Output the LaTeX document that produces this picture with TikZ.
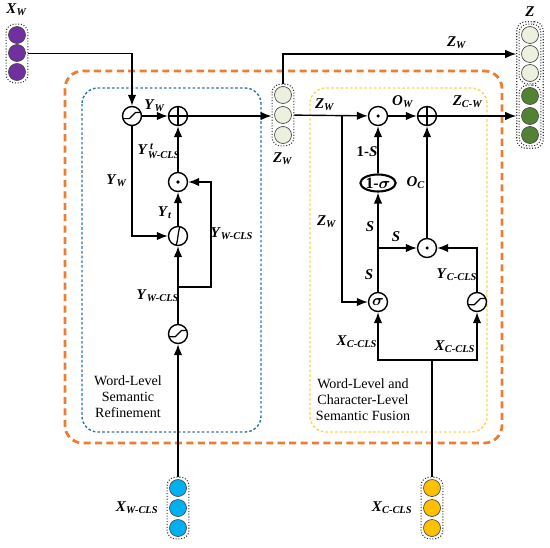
\documentclass[tikz,border=0pt]{standalone}
\usepackage{amsmath}
\usepackage{fontspec}
\setmainfont{Liberation Serif}
\usetikzlibrary{arrows.meta,positioning,fit,shapes.geometric}
\definecolor{grape}{RGB}{112,48,160}
\definecolor{sky}{RGB}{0,176,240}
\definecolor{amber}{RGB}{255,192,0}
\definecolor{leaf}{RGB}{84,130,53}
\definecolor{pale}{RGB}{235,241,222}
\definecolor{rust}{RGB}{237,125,49}
\definecolor{sea}{RGB}{46,117,182}
\definecolor{straw}{RGB}{255,210,80}
\newcommand\vlab[2]{$\textbf{\textit{#1}}_{\textbf{\textit{#2}}}$}
\newcommand\vlabt[2]{$\textbf{\textit{#1}}^{\,\textbf{\textit{t}}}_{\textbf{\textit{#2}}}$}

\begin{document}
\begin{tikzpicture}[x=0.02cm,y=-0.02cm,font=\fontsize{8.5}{10}\selectfont,
 arrow/.style={-{Latex[length=2.2mm,width=1.7mm]},line width=0.8pt},
 link/.style={line width=0.8pt},
 op/.style={circle,draw,line width=0.8pt,minimum size=0.38cm,inner sep=0pt,fill=white},
 dotop/.style={op,path picture={\fill[black] (path picture bounding box.center) circle (1pt);}},
 plusop/.style={op,path picture={\draw[line width=0.7pt] (path picture bounding box.north) -- (path picture bounding box.south) (path picture bounding box.west) -- (path picture bounding box.east);}},
 actop/.style={op,path picture={\draw[line width=0.7pt] ([xshift=-6pt,yshift=-1.5pt]path picture bounding box.center) -- ++(4.5pt,0pt) -- ++(3.5pt,3.5pt) -- ++(4pt,0pt);}},
 tanop/.style={op,path picture={\draw[line width=0.7pt] ([xshift=-2pt,yshift=-6pt]path picture bounding box.center) .. controls +(2.5pt,0.5pt) and +(-2.5pt,-0.5pt) .. ++(4pt,12pt);}},
 sigop/.style={op,font=\fontsize{9}{10}\selectfont\bfseries\itshape},
 gateop/.style={ellipse,draw,line width=1.2pt,minimum width=0.56cm,minimum height=0.34cm,inner sep=0pt,fill=white,font=\fontsize{9}{10}\selectfont\bfseries},
 unit/.style={circle,draw=black!70,line width=0.4pt,minimum size=0.34cm,inner sep=0pt},
 stack/.style={draw=black!80,densely dotted,line width=0.6pt,rounded corners=5pt,inner sep=1.2pt},
 blockname/.style={align=center,font=\fontsize{8}{9.2}\selectfont}]
\useasboundingbox (0,0) rectangle (550,547);
% module frames
\draw[rust,line width=1.6pt,dash pattern=on 4pt off 2.5pt,rounded corners=10pt] (65,71) rectangle (502,443);
\draw[sea,line width=0.8pt,dash pattern=on 1.5pt off 1.2pt,rounded corners=9pt] (82,88) rectangle (261,432);
\draw[straw,line width=0.8pt,dash pattern=on 1.5pt off 1.2pt,rounded corners=9pt] (310,88) rectangle (487,432);
\node[blockname] (wsr) at (128,397) {Word-Level\\Semantic\\Refinement};
\node[blockname] (wcf) at (363,400) {Word-Level and\\Character-Level\\Semantic Fusion};
% input and output stacks
\foreach \i/\y in {1/35,2/53,3/72} \node[unit,fill=grape] (xw\i) at (17,\y) {};
\node[stack,fit=(xw1)(xw3)] (xwbox) {};
\node[above=1pt of xwbox] (xwlab) {\vlab{X}{W}};
\foreach \i/\y in {1/488,2/508,3/528} \node[unit,fill=sky] (xc\i) at (178,\y) {};
\node[stack,fit=(xc1)(xc3)] (xcbox) {};
\node[left=1pt of xcbox] (xclab) {\vlab{X}{W-CLS}};
\foreach \i/\y in {1/488,2/508,3/528} \node[unit,fill=amber] (cc\i) at (432,\y) {};
\node[stack,fit=(cc1)(cc3)] (ccbox) {};
\node[left=1pt of ccbox] (cclab) {\vlab{X}{C-CLS}};
\foreach \i/\y in {1/95,2/115,3/135} \node[unit,fill=pale] (zw\i) at (283,\y) {};
\node[stack,fit=(zw1)(zw3)] (zwbox) {};
\node[below=0pt of zwbox] (zwlab) {\vlab{Z}{W}};
\foreach \i/\y in {1/35,2/54,3/73} \node[unit,fill=pale] (z\i) at (530,\y) {};
\foreach \i/\y in {4/96,5/116,6/135} \node[unit,fill=leaf] (z\i) at (530,\y) {};
\node[stack,fit=(z1)(z3)] (zup) {};
\node[stack,fit=(z4)(z6)] (zlow) {};
\node[stack,fit=(zup)(zlow),inner sep=1pt] (zall) {};
\node[above=-1pt of zall] (zlab) {$\textbf{\textit{Z}}$};
% word-level refinement
\node[actop] (actw) at (132,116) {};
\node[plusop] (addw) at (178,116) {};
\node[dotop] (mulw) at (178,182) {};
\node[tanop] (tanw) at (178,236) {};
\node[actop] (actc) at (178,334) {};
\coordinate (cw) at (178,287);
\coordinate (cwr) at (211,287);
\draw[arrow] (xwbox) -| (actw);
\draw[arrow] (actw) -- (addw);
\node (lyw) at (155,106) {\vlab{Y}{W}};
\draw[arrow] (addw) -- (addw -| zwbox.west);
\draw[arrow] (actw) |- (tanw);
\node (lyw2) at (117,181) {\vlab{Y}{W}};
\draw[arrow] (tanw) -- (mulw);
\node (lyt) at (165,213) {\vlab{Y}{t}};
\draw[arrow] (mulw) -- (addw);
\node (lywt) at (159,151) {\vlabt{Y}{W-CLS}};
\draw[arrow] (xcbox) -- (actc);
\draw[arrow] (actc) -- (tanw);
\node (lywc) at (158,296) {\vlab{Y}{W-CLS}};
\draw[arrow] (cw) -- (cwr) |- (mulw);
\node (lywc2) at (232,234) {\vlab{Y}{W-CLS}};
% word/character fusion
\node[dotop] (mulo) at (378,116) {};
\node[plusop] (addo) at (427,116) {};
\node[gateop] (oms) at (378,183) {1-$\boldsymbol{\sigma}$};
\node[dotop] (mulc) at (427,248) {};
\node[sigop] (sig) at (378,302) {$\boldsymbol{\sigma}$};
\node[actop] (actcc) at (477,302) {};
\coordinate (bz) at (342,116);
\coordinate (bs) at (378,248);
\coordinate (jc) at (432,360);
\draw[arrow] (zwbox.north) |- (zall.west |- z2);
\node (lzw) at (457,43) {\vlab{Z}{W}};
\draw[arrow] (zwbox) -- (mulo);
\node (lzw2) at (325,105) {\vlab{Z}{W}};
\draw[arrow] (bz) |- (sig);
\node (lzw3) at (327,222) {\vlab{Z}{W}};
\draw[arrow] (mulo) -- (addo);
\node (low) at (403,102) {\vlab{O}{W}};
\draw[arrow] (addo) -- (zall.west |- addo);
\node (lzcw) at (468,102) {\vlab{Z}{C-W}};
\draw[arrow] (oms) -- (mulo);
\node (l1s) at (367,152) {\textbf{1-\textit{S}}};
\draw[arrow] (sig) -- (oms);
\node (ls1) at (370,227) {$\textbf{\textit{S}}$};
\node (ls2) at (369,275) {$\textbf{\textit{S}}$};
\draw[arrow] (bs) -- (mulc);
\node (ls3) at (396,237) {$\textbf{\textit{S}}$};
\draw[arrow] (mulc) -- (addo);
\node (loc) at (416,183) {\vlab{O}{C}};
\draw[arrow] (actcc) |- (mulc);
\node (lycc) at (457,275) {\vlab{Y}{C-CLS}};
\draw[link] (ccbox) -- (jc);
\draw[arrow] (jc) -| (sig);
\draw[arrow] (jc) -| (actcc);
\node (lxcc) at (357,342) {\vlab{X}{C-CLS}};
\node (lxcc2) at (455,347) {\vlab{X}{C-CLS}};
\end{tikzpicture}
\end{document}
